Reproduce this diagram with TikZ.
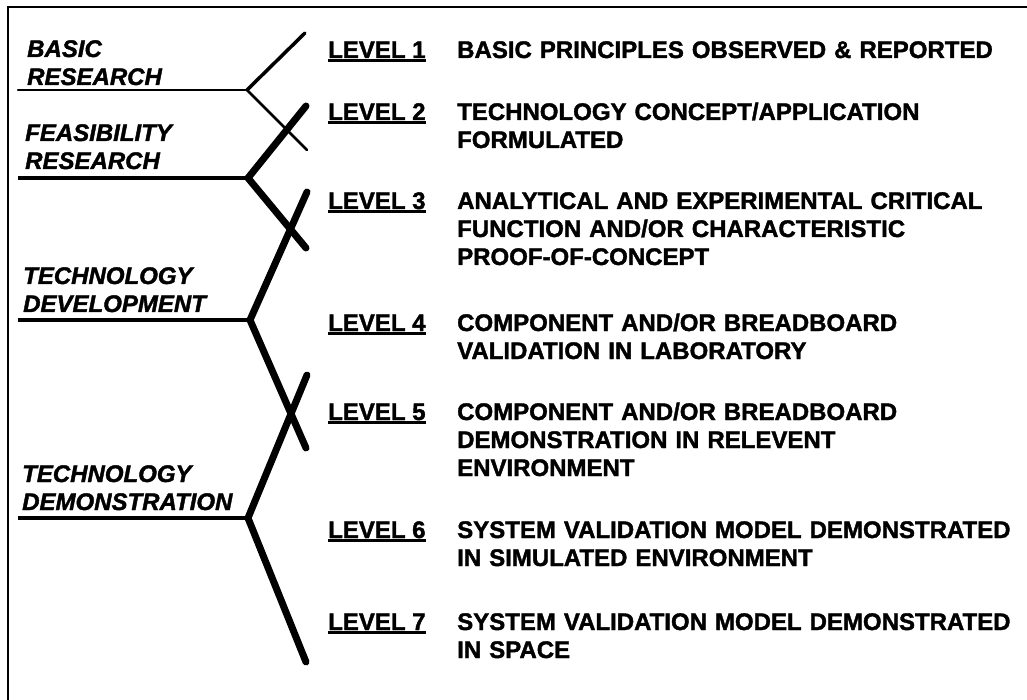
\documentclass[tikz,border=0pt]{standalone}
\usepackage{fontspec}
\setmainfont{Liberation Sans}[BoldFeatures={FakeBold=1.6}, BoldItalicFeatures={FakeBold=1.6}]
\begin{document}
\begin{tikzpicture}[x=1pt, y=-1pt]
    % ================= styles =================
    \tikzset{
        frame_line/.style={line width=2.5pt, black},
        phase_line/.style={line width=4pt, black},
        branch_line/.style={line width=7pt, black, line cap=round},
        faint_line/.style={line width=2.5pt, black, line cap=round},
        phase/.style={anchor=base west, inner sep=0pt, text width=260pt, align=left,
                      font=\fontsize{24}{28}\selectfont\bfseries\itshape},
        lvl/.style={anchor=base west, inner sep=0pt, font=\fontsize{24}{28}\selectfont\bfseries},
        desc/.style={anchor=base west, inner sep=0pt, text width=570pt, align=left,
                     font=\fontsize{24}{28}\selectfont\bfseries},
        uline/.style={line width=3pt, black}
    }
    \useasboundingbox (0,0) rectangle (1027,700);

    % ================= frame =================
    \coordinate (f0) at (8,700);
    \coordinate (f1) at (8,7);
    \coordinate (f2) at (1027,7);
    \draw[frame_line] (f0) -- (f1) -- (f2);

    % ================= phases (left) =================
    \node[phase] (basic) at (27,57)  {BASIC\\RESEARCH};
    \node[phase] (feas)  at (25,141) {FEASIBILITY\\RESEARCH};
    \node[phase] (dev)   at (23,284) {TECHNOLOGY\\DEVELOPMENT};
    \node[phase] (demo)  at (22,482) {TECHNOLOGY\\DEMONSTRATION};

    % branch points and ends
    \coordinate (b0) at (18,90);  \coordinate (b1) at (247,90);
    \coordinate (b2) at (305,33); \coordinate (b3) at (307,150);
    \coordinate (e0) at (18,178); \coordinate (e1) at (248,178);
    \coordinate (e2) at (306,106); \coordinate (e3) at (306,248);
    \coordinate (d0) at (18,320); \coordinate (d1) at (250,320);
    \coordinate (d2) at (307,192); \coordinate (d3) at (306,448);
    \coordinate (m0) at (18,518); \coordinate (m1) at (248,518);
    \coordinate (m2) at (307,375); \coordinate (m3) at (306,662);

    % basic research: thinner lines
    \draw[faint_line] (b0) -- (b1);
    \draw[faint_line, line width=3.5pt] (b1) -- (b2);
    \draw[faint_line] (b1) -- (b3);

    % the other phases
    \foreach \p in {e,d,m} {
        \draw[phase_line] (\p0) -- (\p1);
        \draw[branch_line] (\p2) -- (\p1) -- (\p3);
    }

    % ================= levels (right) =================
    \foreach \n/\y in {1/58, 2/120, 3/209, 4/331, 5/420, 6/538, 7/630} {
        \node[lvl] (lv\n) at (328,\y) {LEVEL \n};
        \draw[uline] ([yshift=-2.5pt]lv\n.base west) -- ([yshift=-2.5pt]lv\n.base east);
    }

    \node[desc] (t1) at (457,58)  {BASIC PRINCIPLES OBSERVED \& REPORTED};
    \node[desc] (t2) at (457,120) {TECHNOLOGY CONCEPT/APPLICATION\\FORMULATED};
    \node[desc] (t3) at (457,209) {ANALYTICAL AND EXPERIMENTAL CRITICAL\\FUNCTION AND/OR CHARACTERISTIC\\PROOF-OF-CONCEPT};
    \node[desc] (t4) at (457,331) {COMPONENT AND/OR BREADBOARD\\VALIDATION IN LABORATORY};
    \node[desc] (t5) at (457,420) {COMPONENT AND/OR BREADBOARD\\DEMONSTRATION IN RELEVENT\\ENVIRONMENT};
    \node[desc] (t6) at (457,538) {SYSTEM VALIDATION MODEL DEMONSTRATED\\IN SIMULATED ENVIRONMENT};
    \node[desc] (t7) at (457,630) {SYSTEM VALIDATION MODEL DEMONSTRATED\\IN SPACE};

\end{tikzpicture}
\end{document}
